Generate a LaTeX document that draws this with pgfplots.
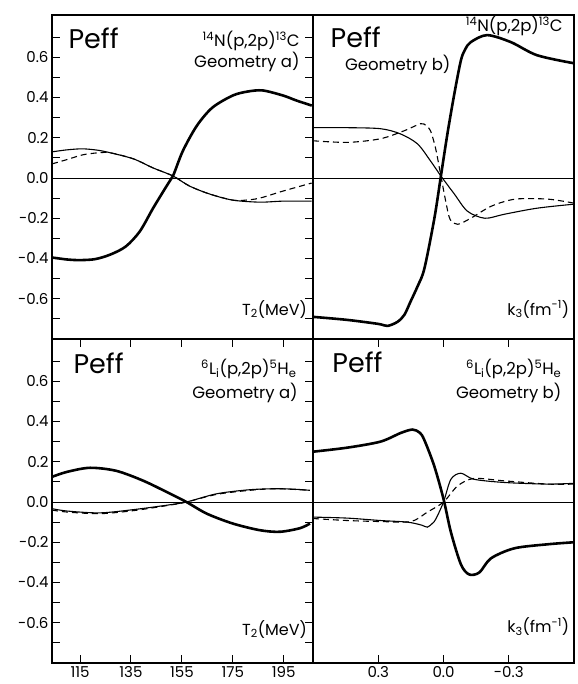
\documentclass[border=0pt]{standalone}
\usepackage{fontspec}
\setmainfont{Poppins}
\usepackage{pgfplots}
\pgfplotsset{compat=1.18}
\usepgfplotslibrary{groupplots}

\tikzset{
  thickc/.style={black, line width=2.6pt, smooth, tension=0.5},
  thinc/.style={black, line width=1.1pt, smooth, tension=0.5},
  dashc/.style={black, line width=1.1pt, dash pattern=on 6pt off 4pt, smooth, tension=0.5},
  zline/.style={black, line width=0.8pt},
  peff/.style={anchor=base west, font=\fontsize{27}{27}\selectfont},
  reac/.style={anchor=base east, font=\fontsize{16.5}{16.5}\selectfont},
  axl/.style={anchor=base east, font=\fontsize{16}{16}\selectfont},
}
\newcommand{\Nreac}{\textsuperscript{14}N(p,2p)\textsuperscript{13}C}
\newcommand{\Lireac}{\textsuperscript{6}L\textsubscript{i}(p,2p)\textsuperscript{5}H\textsubscript{e}}

\begin{document}
\begin{tikzpicture}
\begin{groupplot}[
  group style={group size=2 by 2, horizontal sep=0pt, vertical sep=0pt},
  scale only axis,
  width=261pt, height=324pt,
  ymin=-0.8, ymax=0.81,
  axis line style={line width=1.1pt},
  tick style={black, line width=0.9pt},
  major tick length=8pt, minor tick length=8pt,
  tick align=inside,
  tick label style={font=\fontsize{15}{15}\selectfont},
  ytick=\empty, xtick=\empty,
  clip=false,
]
% ---- top left: 14N geometry a
\nextgroupplot[xmin=104, xmax=206.5,
  ytick={-0.6,-0.4,-0.2,0,0.2,0.4,0.6},
  yticklabels={-0.6,-0.4,-0.2,0.0,0.2,0.4,0.6},
  minor ytick={-0.7,-0.5,-0.3,-0.1,0.1,0.3,0.5,0.7}]
\addplot[zline] coordinates {(104,0) (206.5,0)};
\addplot[thickc] coordinates {
  (104,-0.395) (110,-0.405) (115,-0.408) (121,-0.403) (127,-0.38) (133,-0.34)
  (138.5,-0.265) (143.7,-0.15) (149,-0.04) (151.5,0.01) (155.4,0.135) (160.9,0.26)
  (167,0.35) (175,0.41) (181,0.43) (186.8,0.435) (194.7,0.41) (200,0.385) (206,0.36)};
\addplot[thinc] coordinates {
  (104,0.13) (110,0.14) (116,0.145) (122,0.138) (127,0.125) (136,0.095) (143.7,0.05)
  (151.5,0.01) (158,-0.04) (166,-0.08) (175,-0.11) (185.6,-0.12) (194.7,-0.115) (206,-0.115)};
\addplot[dashc] coordinates {
  (104,0.07) (110,0.092) (116,0.115) (122,0.125) (127,0.125) (136,0.095) (143.7,0.05)
  (151.5,0.01) (158,-0.04) (166,-0.08) (175,-0.11) (180,-0.11) (185.6,-0.1) (194.7,-0.065) (206,-0.025)};
\node[peff] at (rel axis cs:0.05,0.898) {Peff};
\node[reac] at (rel axis cs:0.962,0.902) {\Nreac};
\node[reac] at (rel axis cs:0.962,0.838) {Geometry a)};
\node[axl] at (rel axis cs:0.99,0.074) {T\textsubscript{2}(MeV)};

% ---- top right: 14N geometry b
\nextgroupplot[xmin=-0.6, xmax=0.6, x dir=reverse]
\addplot[zline] coordinates {(-0.6,0) (0.6,0)};
\addplot[thickc] coordinates {
  (0.6,-0.69) (0.443,-0.705) (0.3,-0.725) (0.258,-0.735) (0.212,-0.715) (0.18,-0.68)
  (0.152,-0.615) (0.12,-0.54) (0.088,-0.45) (0.042,-0.2) (0.012,0.01) (-0.018,0.22)
  (-0.05,0.42) (-0.08,0.585) (-0.1,0.64) (-0.125,0.675) (-0.2,0.71) (-0.31,0.675)
  (-0.43,0.61) (-0.6,0.57)};
\addplot[thinc] coordinates {
  (0.6,0.25) (0.44,0.25) (0.29,0.245) (0.2,0.22) (0.12,0.17) (0.06,0.085) (0.012,0.01)
  (-0.05,-0.08) (-0.11,-0.165) (-0.19,-0.2) (-0.28,-0.18) (-0.43,-0.15) (-0.6,-0.13)};
\addplot[dashc] coordinates {
  (0.6,0.185) (0.44,0.177) (0.29,0.195) (0.18,0.235) (0.105,0.27) (0.08,0.26) (0.06,0.235)
  (0.037,0.15) (0.012,0.01) (-0.01,-0.115) (-0.03,-0.205) (-0.065,-0.23) (-0.125,-0.2)
  (-0.22,-0.14) (-0.33,-0.105) (-0.48,-0.105) (-0.6,-0.125)};
\node[peff] at (rel axis cs:0.054,0.901) {Peff};
\node[reac] at (rel axis cs:0.97,0.948) {\Nreac};
\node[reac] at (rel axis cs:0.54,0.83) {Geometry b)};
\node[axl] at (rel axis cs:0.995,0.074) {k\textsubscript{3}(fm\textsuperscript{-1})};

% ---- bottom left: 6Li geometry a
\nextgroupplot[xmin=104, xmax=206.5,
  xtick={115,135,155,175,195},
  xticklabels={115,135,155,175,195},
  ytick={-0.6,-0.4,-0.2,0,0.2,0.4,0.6},
  yticklabels={-0.6,-0.4,-0.2,0.0,0.2,0.4,0.6},
  minor ytick={-0.7,-0.5,-0.3,-0.1,0.1,0.3,0.5,0.7}]
\addplot[zline] coordinates {(104,0) (206.5,0)};
\addplot[thickc] coordinates {
  (104,0.125) (110,0.15) (118.9,0.17) (129.2,0.155) (139.6,0.107) (149,0.05) (156.8,0)
  (164.8,-0.058) (175,-0.107) (185.6,-0.14) (193.5,-0.148) (201.4,-0.13) (205.3,-0.107)};
\addplot[thinc] coordinates {
  (104,-0.033) (110,-0.045) (122.8,-0.054) (135.9,-0.038) (149,-0.016) (156.8,0)
  (168.7,0.041) (181.6,0.061) (192.2,0.066) (200,0.063) (205.3,0.058)};
\addplot[dashc] coordinates {
  (104,-0.04) (110,-0.05) (122.8,-0.058) (135.9,-0.043) (149,-0.018) (156.8,0)
  (168.7,0.038) (181.6,0.058) (192.2,0.066) (205.3,0.058)};
\node[peff] at (rel axis cs:0.069,0.895) {Peff};
\node[reac] at (rel axis cs:0.95,0.889) {\Lireac};
\node[reac] at (rel axis cs:0.955,0.815) {Geometry a)};
\node[axl] at (rel axis cs:0.99,0.086) {T\textsubscript{2}(MeV)};

% ---- bottom right: 6Li geometry b
\nextgroupplot[xmin=-0.6, xmax=0.6, x dir=reverse,
  xtick={-0.3,0,0.3}, xticklabels={-0.3,0.0,0.3}]
\addplot[zline] coordinates {(-0.6,0) (0.6,0)};
\addplot[thickc] coordinates {
  (0.6,0.25) (0.443,0.27) (0.29,0.3) (0.197,0.343) (0.143,0.36) (0.11,0.345) (0.089,0.31)
  (0.043,0.18) (0,0.015) (-0.034,-0.15) (-0.08,-0.31) (-0.118,-0.36) (-0.165,-0.35)
  (-0.218,-0.28) (-0.326,-0.23) (-0.48,-0.21) (-0.6,-0.2)};
\addplot[thinc] coordinates {
  (0.6,-0.075) (0.443,-0.08) (0.29,-0.092) (0.166,-0.1) (0.1,-0.115) (0.074,-0.125)
  (0.05,-0.105) (0.035,-0.084) (0,0) (-0.034,0.113) (-0.08,0.143) (-0.14,0.113)
  (-0.28,0.097) (-0.48,0.089) (-0.6,0.093)};
\addplot[dashc] coordinates {
  (0.6,-0.082) (0.443,-0.092) (0.29,-0.097) (0.15,-0.097) (0.074,-0.05) (0,0)
  (-0.065,0.08) (-0.14,0.117) (-0.28,0.105) (-0.48,0.089) (-0.6,0.089)};
\node[peff] at (rel axis cs:0.061,0.898) {Peff};
\node[reac] at (rel axis cs:0.965,0.889) {\Lireac};
\node[reac] at (rel axis cs:0.965,0.815) {Geometry b)};
\node[axl] at (rel axis cs:0.995,0.093) {k\textsubscript{3}(fm\textsuperscript{-1})};
\end{groupplot}
\path ([shift={(-52pt,15pt)}]group c1r1.north west) rectangle ([shift={(3pt,-21pt)}]group c2r2.south east);
\end{tikzpicture}
\end{document}
